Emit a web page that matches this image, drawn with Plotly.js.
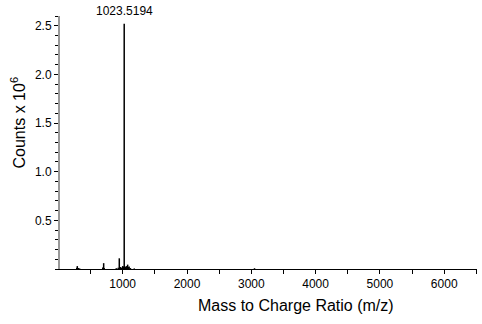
<!DOCTYPE html>
<html><head><meta charset="utf-8">
<script src="https://cdn.plot.ly/plotly-3.0.1.min.js"></script>
<style>html,body{margin:0;padding:0;background:#fff}#c{width:482px;height:324px}</style>
</head><body><div id="c"></div>
<script>
// m/z of peaks and counts (x 10^6)
const mz = [285, 294, 310, 330, 690, 704, 712, 900, 930, 947, 962, 985, 1000, 1012, 1023.5194, 1035, 1045, 1060, 1077, 1090, 1100, 1120, 1180, 3050];
const counts = [0.012, 0.03, 0.01, 0.006, 0.015, 0.06, 0.01, 0.008, 0.012, 0.11, 0.02, 0.015, 0.03, 0.025, 2.52, 0.025, 0.02, 0.03, 0.045, 0.02, 0.025, 0.01, 0.006, 0.008];
const xTicks = [1000, 2000, 3000, 4000, 5000, 6000];
const yTicks = [0.5, 1.0, 1.5, 2.0, 2.5];
const peakLabel = "1023.5194";
const xTitle = 'Mass to Charge Ratio (m/z)';
const yTitle = 'Counts x 10<sup>6</sup>';

const xs = [], ys = [];
mz.forEach((m, i) => { xs.push(m, m, null); ys.push(0, counts[i], null); });

const W = 482, H = 324;
const M = {l: 60, r: 5, t: 16, b: 55, pad: 0};
const pw = W - M.l - M.r, ph = H - M.t - M.b;
// convert pixel position to paper (plot-area) coordinates
const px = x => (x - M.l) / pw;
const py = y => (H - M.b - y) / ph;
const font = "Liberation Sans, Arial, Helvetica, sans-serif";
const iMax = counts.indexOf(Math.max(...counts));
Plotly.newPlot('c', [{
  type: 'scatter', mode: 'lines', x: xs, y: ys,
  line: {color: '#000', width: 1.5}, connectgaps: false, hoverinfo: 'skip'
}], {
  width: W, height: H,
  margin: M,
  paper_bgcolor: '#fff', plot_bgcolor: '#fff',
  showlegend: false,
  font: {family: font, color: '#000', size: 12},
  xaxis: {
    range: [25, 6510], showgrid: false, zeroline: false,
    showline: true, linecolor: '#000', linewidth: 1,
    tickmode: 'array', tickvals: xTicks, ticktext: xTicks.map(String),
    ticks: 'outside', ticklen: 4, tickcolor: '#000', tickwidth: 1,
    minor: {tickmode: 'linear', tick0: 0, dtick: 500, ticks: 'outside', ticklen: 4, tickcolor: '#000'},
    tickfont: {size: 12, family: font}
  },
  yaxis: {
    range: [0, 2.6], showgrid: false, zeroline: false,
    showline: true, linecolor: '#999', linewidth: 2,
    tickmode: 'array', tickvals: yTicks, ticktext: yTicks.map(v => v.toFixed(1)),
    ticks: 'outside', ticklen: 4, tickcolor: '#000', tickwidth: 1,
    minor: {tickmode: 'linear', tick0: 0, dtick: 0.1, ticks: 'outside', ticklen: 3, tickcolor: '#000'},
    tickfont: {size: 12, family: font}
  },
  annotations: [{
    x: mz[iMax], y: counts[iMax],
    xref: 'x', yref: 'y', text: peakLabel, showarrow: false,
    yanchor: 'bottom', yshift: 4, font: {size: 12, family: font}
  }, {
    x: px(296), y: py(305), xref: 'paper', yref: 'paper',
    xanchor: 'center', yanchor: 'middle', showarrow: false,
    text: xTitle, font: {size: 16, family: font}
  }, {
    x: px(18), y: py(122.5), xref: 'paper', yref: 'paper',
    xanchor: 'center', yanchor: 'middle', showarrow: false, textangle: -90,
    text: yTitle, font: {size: 16, family: font}
  }]
}, {staticPlot: true});
</script></body></html>
